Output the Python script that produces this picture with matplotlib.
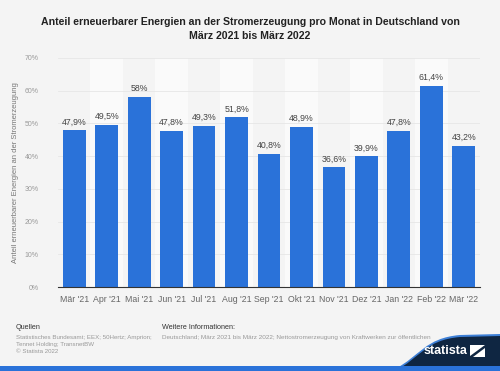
import numpy as np
import matplotlib.pyplot as plt
from matplotlib.patches import Polygon, PathPatch
from matplotlib.path import Path

# data
months = ["Mär '21", "Apr '21", "Mai '21", "Jun '21", "Jul '21", "Aug '21", "Sep '21",
          "Okt '21", "Nov '21", "Dez '21", "Jan '22", "Feb '22", "Mär '22"]
share = [47.9, 49.5, 58.0, 47.8, 49.3, 51.8, 40.8, 48.9, 36.6, 39.9, 47.8, 61.4, 43.2]
labels = ["47,9%", "49,5%", "58%", "47,8%", "49,3%", "51,8%", "40,8%",
          "48,9%", "36,6%", "39,9%", "47,8%", "61,4%", "43,2%"]
yticks = [0, 10, 20, 30, 40, 50, 60, 70]

plt.rcParams['font.family'] = ['Liberation Sans', 'DejaVu Sans']

bg = "#f4f4f4"
fig = plt.figure(figsize=(5, 3.71), dpi=100, facecolor=bg)
ax = fig.add_axes([0.116, 0.226, 0.844, 0.618])
ax.set_facecolor(bg)

x = np.arange(len(months))
# alternating faint column stripes
for i in x:
    if i % 2 == 1:
        ax.axvspan(i - 0.5, i + 0.5, color="#fafafa", zorder=0, lw=0)

for t in yticks[1:]:
    ax.axhline(t, color="#e6e6e6", lw=0.6, zorder=1)

ax.bar(x, share, width=0.7, color="#2a72d9", zorder=2)
for xi, v, lab in zip(x, share, labels):
    ax.text(xi, v + 1.2, lab, ha="center", va="bottom", fontsize=6.3, color="#444444", zorder=3)

ax.set_xlim(-0.5, len(months) - 0.5)
ax.set_ylim(0, 70)
ax.set_yticks(yticks)
ax.set_yticklabels([f"{t}%" for t in yticks], fontsize=5, color="#9a9a9a")
ax.set_xticks(x)
ax.set_xticklabels(months, fontsize=6.3, color="#666666")
ax.tick_params(axis="both", length=0, pad=6)
ax.tick_params(axis="y", pad=14)
for s in ["top", "right", "left"]:
    ax.spines[s].set_visible(False)
ax.spines["bottom"].set_color("#333333")
ax.spines["bottom"].set_linewidth(0.8)
ax.set_ylabel("Anteil erneuerbarer Energien an der Stromerzeugung", fontsize=5.5,
              color="#777777", labelpad=4)

fig.text(0.5, 0.955, "Anteil erneuerbarer Energien an der Stromerzeugung pro Monat in Deutschland von\nMärz 2021 bis März 2022",
         ha="center", va="top", fontsize=7.6, fontweight="bold", color="#222222", linespacing=1.5)

# footer
fig.text(0.032, 0.108, "Quellen", fontsize=5.2, color="#333333", va="bottom")
fig.text(0.032, 0.098, "Statistisches Bundesamt; EEX; 50Hertz; Amprion;\nTennet Holding; TransnetBW\n© Statista 2022",
         fontsize=4.4, color="#999999", va="top", linespacing=1.5)
fig.text(0.323, 0.108, "Weitere Informationen:", fontsize=5.2, color="#333333", va="bottom")
fig.text(0.323, 0.098, "Deutschland; März 2021 bis März 2022; Nettostromerzeugung von Kraftwerken zur öffentlichen",
         fontsize=4.6, color="#999999", va="top", zorder=1)

# statista swoosh
fa = fig.add_axes([0, 0, 1, 1], zorder=2)
fa.set_xlim(0, 500)
fa.set_ylim(371, 0)
fa.axis("off")
verts = [(395, 371), (420, 358), (425, 340), (460, 337), (500, 336), (500, 371), (395, 371)]
codes = [Path.MOVETO, Path.CURVE4, Path.CURVE4, Path.CURVE4, Path.LINETO, Path.LINETO, Path.CLOSEPOLY]
edge = [(v[0], v[1] - 2) for v in verts]
fa.add_patch(PathPatch(Path(edge, codes), color="#3d7fd6", lw=0))
fa.add_patch(PathPatch(Path(verts, codes), color="#0f2642", lw=0))
fa.add_patch(plt.Rectangle((0, 366), 500, 5, color="#2a72d9", lw=0))
fa.text(467, 351, "statista", fontsize=9, fontweight="bold", color="white", ha="right", va="center")
fa.add_patch(Polygon([(470, 345), (485, 345), (470, 356)], closed=True, color="white", lw=0))
fa.add_patch(Polygon([(485, 347.5), (485, 357), (473, 357)], closed=True, color="white", lw=0))

fig.savefig("out.png", dpi=100, facecolor=bg)
